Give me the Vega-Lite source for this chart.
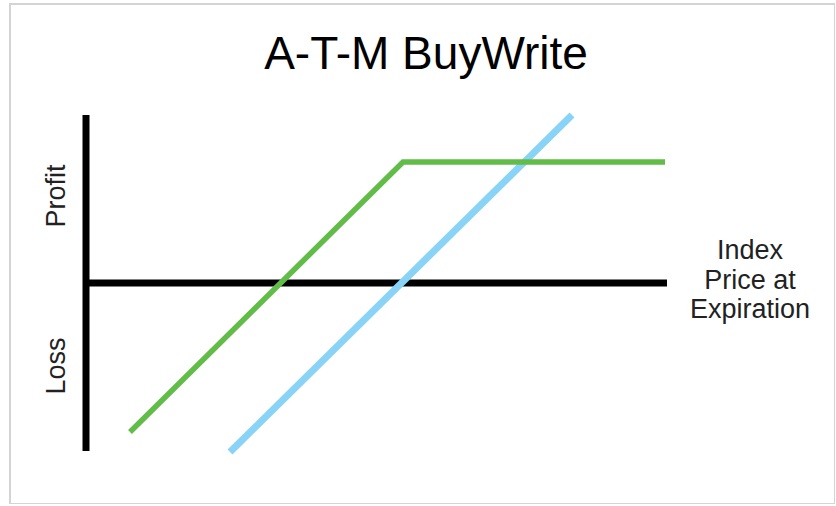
{
  "$schema": "https://vega.github.io/schema/vega-lite/v6.json",
  "width": 825,
  "height": 500,
  "padding": {"left": 10, "top": 4, "right": 0, "bottom": 0},
  "autosize": {"type": "none"},
  "background": "white",
  "config": {
    "view": {"stroke": "#d4d4d4", "strokeWidth": 2}
  },
  "datasets": {
    "lines": [
      {"series": "axisV", "x": 0, "y": 168},
      {"series": "axisV", "x": 0, "y": -168},
      {"series": "axisH", "x": 0, "y": 0},
      {"series": "axisH", "x": 581, "y": 0},
      {"series": "BuyWrite", "x": 44, "y": -149},
      {"series": "BuyWrite", "x": 317, "y": 121},
      {"series": "BuyWrite", "x": 579, "y": 121},
      {"series": "Index", "x": 144, "y": -169},
      {"series": "Index", "x": 486, "y": 168}
    ]
  },
  "layer": [
    {
      "data": {"name": "lines"},
      "transform": [{"filter": "datum.series === 'axisV' || datum.series === 'axisH'"}],
      "mark": {"type": "line", "color": "#000000", "strokeWidth": 7, "strokeCap": "butt"},
      "encoding": {
        "x": {"field": "x", "type": "quantitative", "scale": {"domain": [-76, 749], "nice": false, "zero": false}, "axis": null},
        "y": {"field": "y", "type": "quantitative", "scale": {"domain": [-221, 279], "nice": false, "zero": false}, "axis": null},
        "detail": {"field": "series"}
      }
    },
    {
      "data": {"name": "lines"},
      "transform": [{"filter": "datum.series === 'Index'"}],
      "mark": {"type": "line", "color": "#89d4f6", "strokeWidth": 7, "strokeCap": "butt"},
      "encoding": {
        "x": {"field": "x", "type": "quantitative"},
        "y": {"field": "y", "type": "quantitative"}
      }
    },
    {
      "data": {"name": "lines"},
      "transform": [{"filter": "datum.series === 'BuyWrite'"}],
      "mark": {"type": "line", "color": "#62bc48", "strokeWidth": 5.5, "strokeCap": "butt", "strokeJoin": "miter"},
      "encoding": {
        "x": {"field": "x", "type": "quantitative"},
        "y": {"field": "y", "type": "quantitative"}
      }
    },
    {
      "data": {"values": [{"label": "A-T-M BuyWrite"}]},
      "mark": {"type": "text", "font": "Liberation Sans", "fontSize": 46, "align": "center", "baseline": "alphabetic", "fill": "#000000"},
      "encoding": {
        "x": {"datum": 340},
        "y": {"datum": 214},
        "text": {"field": "label", "type": "nominal"}
      }
    },
    {
      "data": {"values": [{"label": "Profit", "pos": 87}, {"label": "Loss", "pos": -83}]},
      "mark": {"type": "text", "font": "Liberation Sans", "fontSize": 27, "angle": 270, "align": "center", "baseline": "middle", "fill": "#222222"},
      "encoding": {
        "x": {"datum": -29},
        "y": {"field": "pos", "type": "quantitative"},
        "text": {"field": "label", "type": "nominal"}
      }
    },
    {
      "data": {"values": [{"label": ["Index", "Price at", "Expiration"]}]},
      "mark": {"type": "text", "font": "Liberation Sans", "fontSize": 27, "lineHeight": 29.5, "align": "center", "baseline": "middle", "fill": "#222222"},
      "encoding": {
        "x": {"datum": 664},
        "y": {"datum": 32},
        "text": {"field": "label"}
      }
    }
  ]
}
